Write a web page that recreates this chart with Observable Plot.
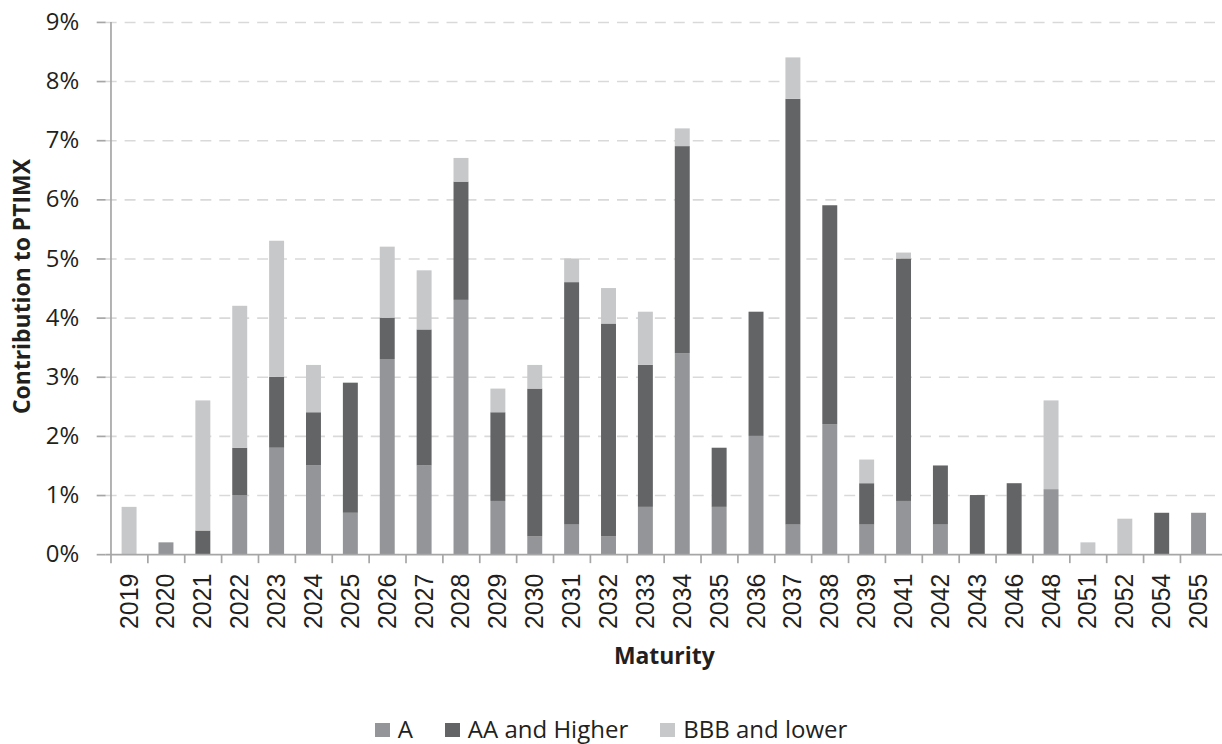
<!DOCTYPE html>
<html><head><meta charset="utf-8">
<script src="https://cdn.jsdelivr.net/npm/d3@7"></script>
<script src="https://cdn.jsdelivr.net/npm/@observablehq/plot@0.6"></script>
<style>
html,body{margin:0;padding:0;background:#fff;overflow:hidden;width:1222px;height:744px;}
#chart{position:absolute;left:0;top:0;}
#legend{position:absolute;left:0;top:717px;width:1222px;height:24px;display:flex;justify-content:center;align-items:center;font-family:"Open Sans";font-size:24px;line-height:24px;color:#231f20;}
.item{display:flex;align-items:center;margin:0 16px;}
.sw{width:15px;height:14px;margin-right:8px;position:relative;top:1px;}
</style></head><body>
<div id="chart"></div><div id="legend"></div>
<script>
const years = ["2019","2020","2021","2022","2023","2024","2025","2026","2027","2028","2029","2030","2031","2032","2033","2034","2035","2036","2037","2038","2039","2041","2042","2043","2046","2048","2051","2052","2054","2055"];
const seriesNames = ["A", "AA and Higher", "BBB and lower"];
const aValues   = [0, 0.2, 0, 1.0, 1.8, 1.5, 0.7, 3.3, 1.5, 4.3, 0.9, 0.3, 0.5, 0.3, 0.8, 3.4, 0.8, 2.0, 0.5, 2.2, 0.5, 0.9, 0.5, 0, 0, 1.1, 0, 0, 0, 0.7];
const aaValues  = [0, 0, 0.4, 0.8, 1.2, 0.9, 2.2, 0.7, 2.3, 2.0, 1.5, 2.5, 4.1, 3.6, 2.4, 3.5, 1.0, 2.1, 7.2, 3.7, 0.7, 4.1, 1.0, 1.0, 1.2, 0, 0, 0, 0.7, 0];
const bbbValues = [0.8, 0, 2.2, 2.4, 2.3, 0.8, 0, 1.2, 1.0, 0.4, 0.4, 0.4, 0.4, 0.6, 0.9, 0.3, 0, 0, 0.7, 0, 0.4, 0.1, 0, 0, 0, 1.5, 0.2, 0.6, 0, 0];
const colors = ["#939598", "#636466", "#c7c8ca"];
const yTicks = [0, 1, 2, 3, 4, 5, 6, 7, 8, 9];
const yTitle = "Contribution to PTIMX";
const xTitle = "Maturity";

const width = 1226, height = 700, marginLeft = 106, marginRight = 0, marginTop = 22, marginBottom = 144;
const step = (width - marginLeft - marginRight) / years.length;
const axisColor = "#a6a6a6";
const textColor = "#231f20";

const rows = [];
years.forEach((yr, i) => {
  [aValues, aaValues, bbbValues].forEach((arr, k) => {
    if (arr[i] > 0) rows.push({year: yr, rating: seriesNames[k], value: arr[i]});
  });
});

const chart = Plot.plot({
  width, height, marginLeft, marginRight, marginTop, marginBottom,
  style: {fontFamily: "Open Sans", fontSize: "24px", color: textColor, background: "white"},
  x: {type: "band", domain: years, paddingInner: 0.6, paddingOuter: 0.3, align: 0.5},
  y: {domain: [0, 9]},
  color: {domain: seriesNames, range: colors},
  marks: [
    Plot.ruleY(yTicks.filter(d => d > 0), {stroke: "#d9d9d9", strokeWidth: 1.6, strokeDasharray: "11,8"}),
    Plot.barY(rows, {x: "year", y: "value", fill: "rating", order: seriesNames}),
    Plot.ruleX([years[0]], {x: d => d, dx: -step / 2, stroke: axisColor, strokeWidth: 1.7}),
    Plot.ruleY([0], {stroke: axisColor, strokeWidth: 1.7}),
    Plot.ruleX(years, {x: d => d, dx: -step / 2, y1: 0, y2: 0, insetBottom: -9, stroke: axisColor, strokeWidth: 1.7}),
    Plot.axisY({ticks: yTicks, tickFormat: d => d + "%", tickSize: 9, tickPadding: 18, stroke: axisColor, strokeWidth: 1.7, fill: textColor, fontSize: 24, label: null}),
    Plot.axisX({tickSize: 0, tickRotate: -90, tickPadding: 19, fill: textColor, fontSize: 25, fontFamily: "Liberation Sans", label: null}),
    Plot.text([yTitle], {text: d => d, frameAnchor: "left", textAnchor: "middle", lineAnchor: "middle", dx: -84, dy: -2, rotate: -90, fontWeight: "bold", fontSize: 23, fill: textColor}),
    Plot.text([xTitle], {text: d => d, frameAnchor: "bottom", textAnchor: "middle", lineAnchor: "middle", dy: 102, fontWeight: "bold", fontSize: 23, fill: textColor})
  ]
});
document.getElementById("chart").appendChild(chart);

const legend = document.getElementById("legend");
seriesNames.forEach((name, i) => {
  const item = document.createElement("div");
  item.className = "item";
  const sw = document.createElement("div");
  sw.className = "sw";
  sw.style.background = colors[i];
  const label = document.createElement("span");
  label.textContent = name;
  item.appendChild(sw);
  item.appendChild(label);
  legend.appendChild(item);
});
</script>
</body></html>
